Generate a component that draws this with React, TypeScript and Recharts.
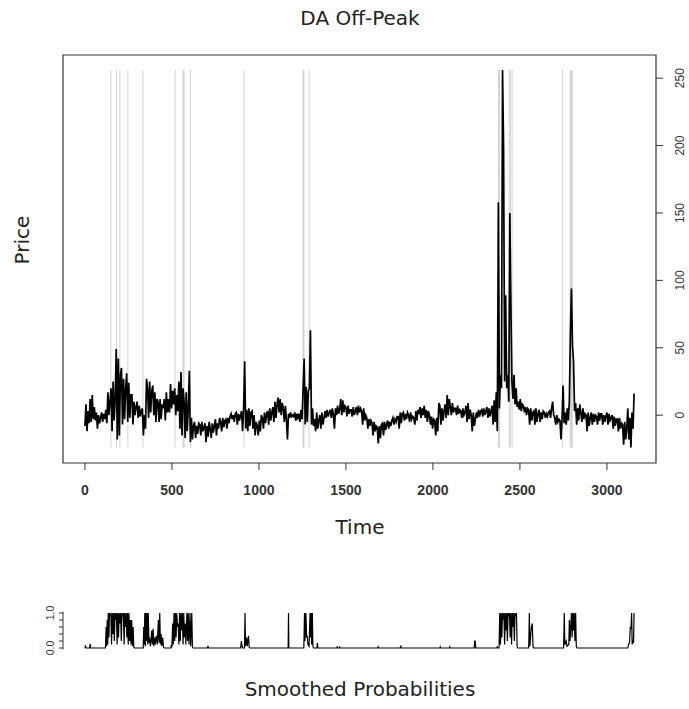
import React from "react"
import { LineChart, Line, XAxis, YAxis, ReferenceLine, ReferenceArea } from "recharts"

// price series, one value every STEP time units
const STEP = 6
const PRICE = [
  -8, 8, -12, 3, -6, 12, -5, 15, -3, 6, -4, 2, -10, 0, -6, -2, 2, -5, 1, -3,
  4, -6, 17, 0, 10, 20, -12, 25, -4, 12, 49, -18, 42, -15, 30, 35, -7, 27, -3, 20,
  31, -5, 24, -2, 15, 15, -7, 10, 0, 6, 10, -2, 7, -1, 3, 5, -15, 0, -10, 27,
  20, -2, 25, 2, 18, 22, 0, 17, -5, 12, 10, -5, 12, -3, 8, 5, 12, -4, 17, 2,
  12, 2, 23, 5, 18, 8, 20, 0, 15, 3, 25, -10, 32, -15, 20, 10, -17, 17, -12, 5,
  33, -20, -2, -18, -8, -5, -17, -8, -14, -6, -7, -15, -5, -12, -9, -6, -20, -8, -16, -5,
  -10, -17, -6, -13, -8, -3, -15, -6, -10, -2, -5, -12, -2, -9, -4, -3, -10, -2, -6, -1,
  1, -3, 0, -5, 1, 2, -7, 1, -4, 0, 3, -12, 5, 40, -10, 4, -12, 5, -8, 2,
  3, -10, 0, -15, -5, -8, -15, -4, -12, 0, -2, -10, 2, -6, 1, 3, -7, 5, -4, 2,
  6, -5, 10, -2, 8, 13, 2, 12, 0, 9, 5, -5, 7, -3, -18, 1, -2, 2, -1, 0,
  -1, 2, -4, 1, -2, 1, -5, 4, -3, 20, 42, -7, 21, -5, 18, 20, 63, -7, 5, -8,
  -3, -12, 2, -10, -4, 0, -10, 2, -7, -2, 3, -2, 4, -1, 2, 4, -2, 5, 0, -10,
  5, 0, 7, 1, 4, 12, 0, 11, 2, 7, 6, -1, 7, 1, 4, 4, -1, 6, 0, 3,
  6, 0, 7, 2, 5, 3, -7, 5, -4, 0, -2, -10, -3, -8, -4, -6, -15, -5, -12, -8,
  -9, -21, -8, -17, -7, -6, -15, -5, -11, -7, -4, -10, -5, -8, -4, -2, -7, -3, -5, -1,
  -1, -10, 2, -6, 1, 2, -4, 1, -3, 2, 0, -5, 2, -3, -1, -2, -7, 3, -4, 4,
  2, 6, -2, 5, 0, 7, -2, 4, -5, 3, 0, -7, -1, -10, -3, -4, -15, -2, -12, 9,
  7, -7, 5, -4, 3, 8, -2, 15, 0, 12, 6, 0, 9, 2, 5, 5, 0, 7, 1, 4,
  3, -2, 5, 0, 2, 7, -5, 9, -3, 4, 0, -12, 2, -8, -3, 2, -2, 4, -1, 3,
  4, -1, 5, 0, 3, 6, -2, 5, -1, 3, 7, -7, 11, -5, 17, -12, 158, 5, 30, 20,
  256, 200, 25, 89, 20, 30, 10, 150, 83, 25, 12, 30, 8, 20, 6, 10, 4, 12, 3, 8,
  7, 2, 6, 0, 5, 4, -7, 5, -4, 2, 3, -7, 5, -5, 1, 4, -5, 2, -3, 3,
  2, -2, 1, -1, 2, 3, -2, 5, 10, 0, -2, -7, 0, -5, -3, -4, -18, -3, 22, -6,
  2, -7, 5, -4, 10, 61, 94, 52, 40, 3, 9, -7, 5, -4, 8, 2, -5, 5, -3, 1,
  0, -12, 2, -8, -2, 2, -7, 1, -5, 0, -1, -7, 2, -4, 1, 1, -7, 0, -5, -1,
  2, -7, 1, -4, -2, 0, -10, -1, -8, -3, -3, -12, -2, -10, -6, -7, -22, -5, -18, -10,
  5, -18, -2, -24, 2, -10, 16,
]

// grey regime markers (time index)
const GREY_T = [149, 182, 201, 247, 333, 518, 564, 567, 570, 607, 914, 1253, 1256, 1259, 1288, 2377, 2383, 2438, 2445, 2455, 2744, 2788, 2792, 2797, 2801]
const GREY_LOW = -24
const GREY_HIGH = 256

// smoothed probabilities (time, value)
const PROB_T = [
  0, 3, 6, 27, 30, 33,
  118, 122, 125, 128, 131, 134, 138, 141, 145, 149, 153, 157, 161, 165, 169, 173, 177, 181, 185, 189, 193, 197, 201, 205, 209, 213, 217, 221, 225, 229, 233, 237, 241, 245, 249, 253, 257, 261, 265, 269, 273, 277, 281, 285,
  335, 338, 341, 344, 347, 350, 353, 357, 361, 364, 368, 372, 376, 380, 384, 388, 392, 396, 400, 404, 410, 416, 422, 426, 430, 434, 438, 442, 447, 452, 456,
  494, 497, 500, 504, 508, 512, 516, 520, 524, 528, 532, 536, 540, 544, 548, 552, 556, 560, 564, 568, 572, 576, 580, 586, 590, 594, 598, 604, 608, 614, 618, 622,
  704, 707, 710,
  895, 899, 903, 907, 917, 920, 923, 929, 933, 940, 944, 948,
  1168, 1170, 1172,
  1258, 1262, 1265, 1270, 1274, 1278, 1282, 1288, 1294, 1297, 1300, 1303, 1307, 1310, 1314,
  1333, 1336, 1339,
  1448, 1450, 1452, 1462, 1464, 1466,
  1683, 1685, 1687, 1812, 1815, 1818,
  2040, 2042, 2044, 2095, 2097, 2099,
  2237, 2240, 2243, 2246,
  2366, 2369, 2372,
  2380, 2384, 2388, 2392, 2396, 2400, 2404, 2408, 2412, 2416, 2420, 2424, 2428, 2432, 2436, 2440, 2444, 2448, 2452, 2456, 2460, 2464, 2468, 2472, 2476, 2480, 2484, 2488,
  2549, 2551, 2554, 2557, 2566, 2571, 2575, 2578,
  2751, 2755, 2758, 2766, 2770, 2781, 2784, 2788, 2796, 2800, 2804, 2808, 2812, 2816, 2820, 2824, 2828,
  3120, 3124, 3130, 3134, 3138, 3142, 3145, 3149, 3153, 3156,
]
const PROB_V = [
  0, 0.05, 0, 0, 0.12, 0,
  0, 0.6, 0.05, 0.8, 0.1, 1, 0.3, 1, 0.9, 1, 0.1, 1, 0.4, 1, 0.2, 1, 0.8, 1, 0.1, 1, 0.3, 1, 0.7, 1, 0.2, 1, 0.9, 1, 0.1, 1, 0.6, 1, 0.3, 1, 0.1, 1, 0.2, 0.8, 0.1, 0.8, 0.05, 0.6, 0.02, 0,
  0, 0.6, 0.1, 1, 0.05, 1, 0.2, 1, 0.1, 1, 0.15, 0.3, 0.05, 0.2, 0.5, 0.1, 0.55, 0.05, 0.3, 0.1, 0.35, 0.1, 0.8, 0.15, 1, 0.1, 0.4, 0.05, 0.3, 0.02, 0,
  0, 0.1, 0.02, 0.7, 0.1, 1, 0.2, 1, 0.3, 1, 0.6, 0.7, 0.1, 1, 0.2, 1, 0.5, 1, 0.1, 1, 0.3, 0.7, 0.1, 1, 0.2, 1, 0.1, 1, 0.05, 1, 0.02, 0,
  0, 0.06, 0,
  0, 0.2, 0.05, 0, 0, 1, 0.05, 0.3, 0.05, 0.35, 0.02, 0,
  0, 1, 0,
  0, 1, 0.2, 1, 0.3, 0.35, 0.1, 0.05, 1, 0.3, 1, 0.1, 1, 0.05, 0,
  0, 0.15, 0,
  0, 0.05, 0, 0, 0.05, 0,
  0, 0.03, 0, 0, 0.07, 0,
  0, 0.03, 0, 0, 0.03, 0,
  0, 0.2, 0.2, 0,
  0, 0.03, 0,
  0, 1, 0.1, 1, 0.3, 1, 0.8, 1, 0.1, 1, 0.5, 1, 0.2, 1, 0.9, 1, 0.3, 1, 0.1, 1, 0.6, 1, 0.2, 1, 0.9, 1, 0.02, 0,
  0, 0.1, 1, 0.05, 0.6, 0.7, 0.05, 0,
  0, 1, 0.1, 0.2, 0.05, 0.1, 0.8, 0.2, 1, 0.3, 1, 0.5, 1, 0.2, 1, 0.05, 0,
  0, 0.1, 0.15, 0.6, 0.55, 1, 0.1, 0.2, 0.15, 1,
]

const X_TICKS = [0, 500, 1000, 1500, 2000, 2500, 3000]
const Y_TICKS = [0, 50, 100, 150, 200, 250]
const P_TICKS = [0, 0.2, 0.4, 0.6, 0.8, 1]

const X_DOMAIN: [number, number] = [-126, 3282]
const Y_DOMAIN: [number, number] = [-35.5, 267.2]
const P_DOMAIN: [number, number] = [-0.04, 1.04]

const priceData = PRICE.map((v, i) => ({ t: i * STEP, price: v }))
const probData = PROB_T.map((t, i) => ({ t, p: PROB_V[i] }))

const AXIS_FONT = "'Liberation Sans', Arial, sans-serif"
const LABEL_FONT = "'DejaVu Sans', Verdana, sans-serif"

function RightTick({ x, y, payload }: any) {
  return (
    <text transform={`translate(${x + 19},${y}) rotate(-90)`} textAnchor="middle"
      fontSize={12} fontFamily={AXIS_FONT} fill="#333">
      {payload.value}
    </text>
  )
}

function ProbTick({ x, y, payload }: any) {
  if (payload.value !== 0 && payload.value !== 1) return <g />
  return (
    <text transform={`translate(${x - 3},${y}) rotate(-90)`} textAnchor="middle"
      fontSize={10.5} fontFamily={AXIS_FONT} fill="#333">
      {payload.value.toFixed(1)}
    </text>
  )
}

const label = (extra: React.CSSProperties): React.CSSProperties => ({
  position: "absolute", fontFamily: LABEL_FONT, fontSize: 20, color: "#222",
  whiteSpace: "nowrap", lineHeight: "24px", ...extra,
})

export default function App() {
  return (
    <div style={{ position: "absolute", left: 0, top: 0, width: 689, height: 709, background: "#fff", overflow: "hidden" }}>
      <div style={label({ left: 0, width: 720, top: 6, textAlign: "center" })}>DA Off-Peak</div>

      <div style={{ position: "absolute", left: 0, top: 0 }}>
        <LineChart width={689} height={540} data={priceData}
          margin={{ top: 55, left: 63, right: 0, bottom: 17 }}>
          <XAxis dataKey="t" type="number" domain={X_DOMAIN} ticks={X_TICKS} allowDataOverflow interval={0}
            axisLine={false} tickSize={7} tickMargin={15} height={60}
            tick={{ fontSize: 14, fontFamily: AXIS_FONT, fontWeight: "bold", fill: "#333" }}
            tickLine={{ stroke: "#333" }} />
          <YAxis type="number" orientation="right" domain={Y_DOMAIN} ticks={Y_TICKS} allowDataOverflow interval={0}
            width={33} axisLine={false} tickSize={7} tickLine={{ stroke: "#333" }} tick={<RightTick />} />
          {GREY_T.map((t) => (
            <ReferenceLine key={t} segment={[{ x: t, y: GREY_LOW }, { x: t, y: GREY_HIGH }]}
              stroke="#d3d3d3" strokeWidth={1} />
          ))}
          <Line dataKey="price" type="linear" stroke="#000" strokeWidth={1.7} dot={false}
            isAnimationActive={false} />
          <ReferenceArea x1={X_DOMAIN[0]} x2={X_DOMAIN[1]} y1={Y_DOMAIN[0]} y2={Y_DOMAIN[1]}
            fill="none" stroke="#333" strokeWidth={1.2} ifOverflow="visible" />
        </LineChart>
      </div>

      <div style={label({ left: 0, width: 720, top: 515, textAlign: "center" })}>Time</div>
      <div style={label({ left: 22, top: 240, transform: "translate(-50%, -50%) rotate(-90deg)" })}>Price</div>

      <div style={{ position: "absolute", left: 0, top: 560 }}>
        <LineChart width={689} height={150} data={probData}
          margin={{ top: 51.6, left: 0, right: 33, bottom: 60.6 }}>
          <XAxis dataKey="t" type="number" domain={X_DOMAIN} allowDataOverflow hide />
          <YAxis type="number" domain={P_DOMAIN} ticks={P_TICKS} allowDataOverflow width={63} interval={0}
            axisLine={{ stroke: "#333" }} tickSize={4} tickLine={{ stroke: "#333" }} tick={<ProbTick />} />
          <Line dataKey="p" type="linear" stroke="#000" strokeWidth={1.2} dot={false}
            isAnimationActive={false} />
        </LineChart>
      </div>

      <div style={label({ left: 0, width: 720, top: 677, textAlign: "center" })}>Smoothed Probabilities</div>
    </div>
  )
}
